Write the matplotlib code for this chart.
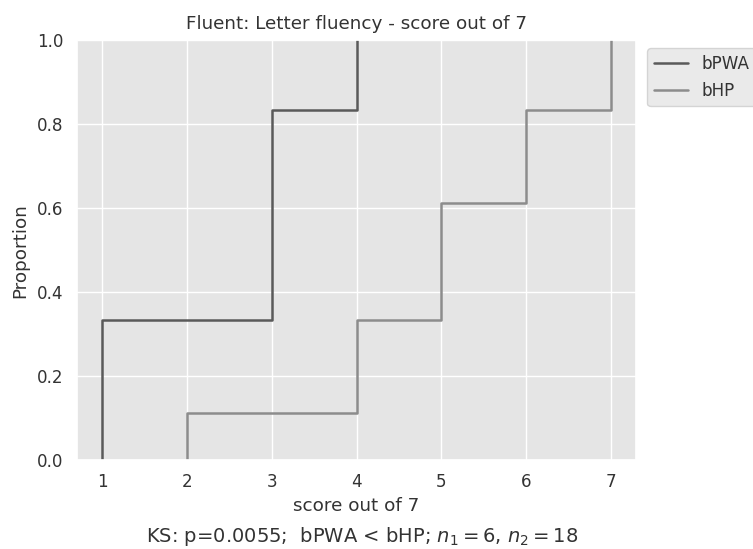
import numpy as np
import matplotlib
matplotlib.use("Agg")
import matplotlib.pyplot as plt
import seaborn as sns

# scores (out of 7) per participant
bpwa_scores = [1, 1, 3, 3, 3, 4]
bhp_scores = [2, 2, 4, 4, 4, 4, 5, 5, 5, 5, 5, 6, 6, 6, 6, 7, 7, 7]
group_names = ["bPWA", "bHP"]
group_colors = ["#5a5a5a", "#8c8c8c"]
x_ticks = [1, 2, 3, 4, 5, 6, 7]
y_ticks = [0.0, 0.2, 0.4, 0.6, 0.8, 1.0]

sns.set_theme(style="darkgrid", font_scale=1.1,
              rc={"axes.facecolor": "#e5e5e5",
                  "grid.color": "white",
                  "text.color": "#333333",
                  "axes.labelcolor": "#333333",
                  "xtick.color": "#333333",
                  "ytick.color": "#333333"})

fig = plt.figure(figsize=(7.53, 5.49), dpi=100)
ax = fig.add_axes([0.102, 0.162, 0.743, 0.765])

for scores, name, col in zip([bpwa_scores, bhp_scores], group_names, group_colors):
    sns.ecdfplot(x=scores, ax=ax, label=name, color=col, linewidth=1.8)

ax.set_xlim(0.7, 7.3)
ax.set_ylim(0, 1)
ax.set_xticks(x_ticks)
ax.set_yticks(y_ticks)
ax.set_xlabel("score out of 7")
ax.set_ylabel("Proportion", labelpad=6)
ax.set_title("Fluent: Letter fluency - score out of 7", pad=8)
ax.legend(bbox_to_anchor=(1.005, 1), loc="upper left", borderaxespad=0.5,
          facecolor="#e5e5e5")

fig.text(0.481, 0.012, r"KS: p=0.0055;  bPWA < bHP; $n_1=6$, $n_2=18$",
         ha="center", va="baseline", fontsize=14, color="#333333")

plt.savefig("out.png", dpi=100)
